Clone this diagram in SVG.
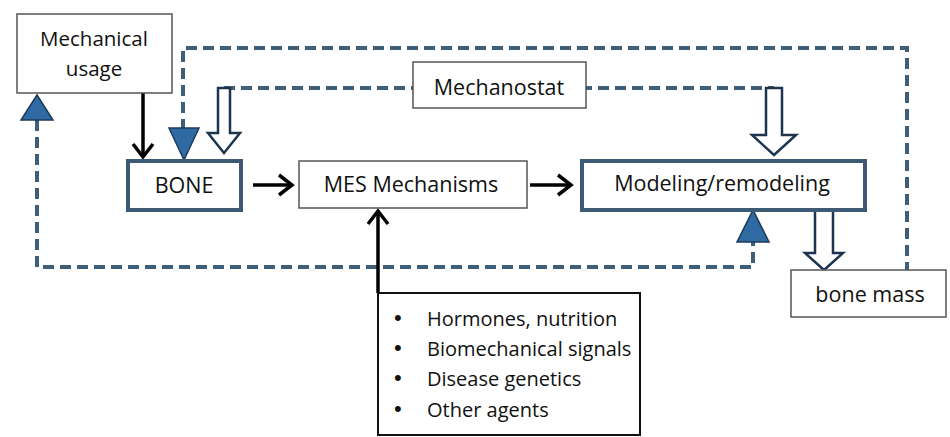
<svg xmlns="http://www.w3.org/2000/svg" width="950" height="437" viewBox="0 0 950 437">
<style>
.dash{fill:none;stroke:#3f5f78;stroke-width:4;stroke-dasharray:11 6}
.thin{fill:#fff;stroke:#555;stroke-width:1.5}
.thick{fill:#fff;stroke:#3d5a75;stroke-width:4}
.lbl{font-family:"Open Sans","Liberation Sans",sans-serif;font-size:21.5px;fill:#111;text-anchor:middle}
.lst{font-family:"Open Sans","Liberation Sans",sans-serif;font-size:20px;fill:#111}
.bul{font-family:"Liberation Sans",sans-serif;font-size:22px;fill:#111}
.blk{stroke:#000;stroke-width:3.5;fill:none}
.hol{fill:#fff;stroke:#1e3550;stroke-width:2.5;stroke-linejoin:miter}
.tri{fill:#2f6aa3;stroke:#1e3a5a;stroke-width:1.5}
</style>
<rect width="950" height="437" fill="#fff"/>
<g id="connectors">
<path class="dash" d="M183,130 L183,48 L907,48 L907,270"/>
<polygon class="tri" points="169,128 199,128 184,160"/>
<path class="dash" d="M224,88 L774,88"/>
<path class="dash" d="M37,120 L37,267 L753,267 L753,242"/>
<polygon class="tri" points="21,120 53,120 37,95"/>
<polygon class="tri" points="737,242 769,242 753,210"/>
<path class="hol" d="M218,88 L230,88 L230,133 L240,133 L224,153 L208,133 L218,133 Z"/>
<path class="hol" d="M766,88 L782,88 L782,135 L796,135 L774,155 L752,135 L766,135 Z"/>
<path class="hol" d="M815,210 L833,210 L833,253 L843,253 L824,270 L805,253 L815,253 Z"/>
<line class="blk" x1="143" y1="93" x2="143" y2="156"/>
<polyline class="blk" points="133,144 143,157 153,144"/>
<line class="blk" x1="253" y1="185" x2="291" y2="185"/>
<polyline class="blk" points="279,175 292,185 279,195"/>
<line class="blk" x1="530" y1="185" x2="570" y2="185"/>
<polyline class="blk" points="558,175 571,185 558,195"/>
<line class="blk" x1="378" y1="293" x2="378" y2="212"/>
<polyline class="blk" points="368,224 378,211 388,224"/>
</g>
<g id="mechanical-usage">
<rect class="thin" x="17" y="14" width="155" height="79"/>
<text class="lbl" x="94" y="46" style="font-size:20.5px">Mechanical</text>
<text class="lbl" x="94" y="76" style="font-size:20.5px">usage</text>
</g>
<g id="mechanostat">
<rect class="thin" x="413" y="62" width="173" height="46"/>
<text class="lbl" x="499" y="95">Mechanostat</text>
</g>
<g id="bone">
<rect class="thick" x="128" y="161" width="113" height="49"/>
<text class="lbl" x="184" y="193">BONE</text>
</g>
<g id="mes">
<rect class="thin" x="299" y="161" width="228" height="47" stroke="#4a5a60"/>
<text class="lbl" x="411" y="192">MES Mechanisms</text>
</g>
<g id="modeling">
<rect class="thick" x="582" y="161" width="283" height="49"/>
<text class="lbl" x="722" y="191">Modeling/remodeling</text>
</g>
<g id="bone-mass">
<rect class="thin" x="791" y="270" width="155" height="47"/>
<text class="lbl" x="870" y="302">bone mass</text>
</g>
<g id="factors">
<rect x="378" y="293" width="262" height="142" fill="#fff" stroke="#111" stroke-width="2"/>
<text class="bul" x="394" y="325">•</text><text class="lst" x="427" y="326">Hormones, nutrition</text>
<text class="bul" x="394" y="355">•</text><text class="lst" x="427" y="356">Biomechanical signals</text>
<text class="bul" x="394" y="385">•</text><text class="lst" x="427" y="386">Disease genetics</text>
<text class="bul" x="394" y="416">•</text><text class="lst" x="427" y="417">Other agents</text>
</g>
</svg>
